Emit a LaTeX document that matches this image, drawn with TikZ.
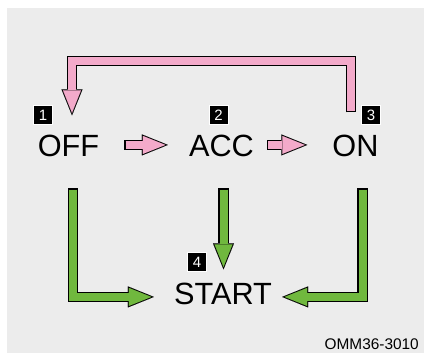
\documentclass[tikz,border=0pt]{standalone}
\usepackage{fontspec}
\setmainfont{Liberation Sans}
\usetikzlibrary{arrows.meta}
\definecolor{figBg}{RGB}{236,236,236}
\definecolor{figP}{RGB}{243,170,202}
\definecolor{figG}{RGB}{112,184,62}
\tikzset{
  keytext/.style={inner sep=0pt, anchor=base, font=\fontsize{30.7}{34}\selectfont},
  keybadge/.style={fill=black, draw=white, line width=0.8pt, minimum size=19pt, inner sep=0pt,
    text=white, font=\fontsize{15}{17}\selectfont},
  fatarrow/.style={line width=8pt, line join=miter, shorten <=1.2pt, shorten >=2.5pt,
    -{Triangle[length=22.5pt, width=18pt, line width=0.01pt]},
    preaction={draw=black, line width=10.5pt, shorten <=0pt, shorten >=0pt,
      -{Triangle[length=26pt, width=21pt, line width=0.01pt]}}},
  pinkarrow/.style={fatarrow, draw=figP},
  greenarrow/.style={fatarrow, draw=figG}
}

\begin{document}
\begin{tikzpicture}[x=1pt, y=1pt]
% panel
\useasboundingbox (0,0) rectangle (424,353);
\fill[white] (0,0) rectangle (424,353);
\fill[figBg] (7,0) rectangle (424,345);
% key positions
\node[keytext] (off) at (68.5,196) {OFF};
\node[keytext] (acc) at (221.5,196) {ACC};
\node[keytext] (on) at (355.5,196) {ON};
\node[keytext] (start) at (223,48) {START};
% numbered badges
\node[keybadge] (b1) at (43,238) {1};
\node[keybadge] (b2) at (218.5,238) {2};
\node[keybadge] (b3) at (371,238) {3};
\node[keybadge] (b4) at (197,91) {4};
% pink arrows
\draw[pinkarrow] ([xshift=25pt,yshift=1.5pt]off.east) -- ([xshift=-21pt,yshift=1.5pt]acc.west);
\draw[pinkarrow] ([xshift=13pt,yshift=1.5pt]acc.east) -- ([xshift=-25pt,yshift=1.5pt]on.west);
\draw[pinkarrow] ([xshift=-4.5pt,yshift=23pt]on.north) -- ++(0,51.5) -| ([xshift=3.5pt,yshift=20pt]off.north);
% green arrows to START
\draw[greenarrow] ([xshift=4.5pt,yshift=-31pt]off.south) |- ([xshift=-20pt,yshift=-2.5pt]start.west);
\draw[greenarrow] ([xshift=2pt,yshift=-31pt]acc.south) -- ([xshift=0.5pt,yshift=14pt]start.north);
\draw[greenarrow] ([xshift=7pt,yshift=-31pt]on.south) |- ([xshift=10pt,yshift=-2.5pt]start.east);
% figure code
\node[font=\fontsize{15.4}{18}\selectfont, anchor=base east, inner sep=0pt] (code) at (419,3) {OMM36-3010};
\end{tikzpicture}
\end{document}
